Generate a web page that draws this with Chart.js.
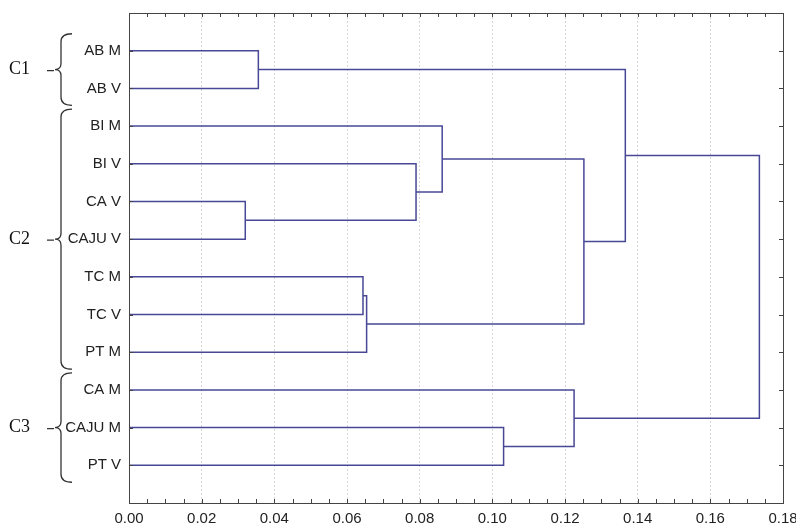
<!DOCTYPE html>
<html>
<head>
<meta charset="utf-8">
<script src="https://cdn.jsdelivr.net/npm/chart.js@4/dist/chart.umd.min.js"></script>
<style>
  html, body { margin: 0; padding: 0; background: #fff; }
  #wrap { width: 796px; height: 525px; }
</style>
</head>
<body>
<div id="wrap"><canvas id="dendro" width="796" height="525"></canvas></div>
<script>
// leaves, top to bottom
const leaves = ['AB M', 'AB V', 'BI M', 'BI V', 'CA V', 'CAJU V', 'TC M', 'TC V', 'PT M', 'CA M', 'CAJU M', 'PT V'];

// linkage: node ids 0..11 are leaves, each merge creates node 12, 13, ...
const mergeA = [4, 0, 6, 14, 3, 2, 10, 9, 17, 13, 21];
const mergeB = [5, 1, 7, 8, 12, 16, 11, 18, 15, 20, 19];
const mergeHeight = [0.032, 0.0356, 0.0644, 0.0654, 0.079, 0.0862, 0.1031, 0.1225, 0.1252, 0.1366, 0.1735];

// bracketed groups (leaf index ranges)
const groupNames = ['C1', 'C2', 'C3'];
const groupFirst = [0, 2, 9];
const groupLast = [1, 8, 11];

const xTicks = [0, 0.02, 0.04, 0.06, 0.08, 0.10, 0.12, 0.14, 0.16, 0.18];

const lineColor = 'rgb(72, 72, 150)';

// node positions: y = leaf slot (1..12), x = merge height
const nodeY = leaves.map((_, i) => i + 1);
const nodeX = leaves.map(() => 0);
mergeA.forEach((a, k) => {
    nodeY.push((nodeY[a] + nodeY[mergeB[k]]) / 2);
    nodeX.push(mergeHeight[k]);
});

const datasets = mergeA.map((a, k) => {
    const b = mergeB[k];
    const h = mergeHeight[k];
    return {
        data: [
            { x: nodeX[a], y: nodeY[a] },
            { x: h, y: nodeY[a] },
            { x: h, y: nodeY[b] },
            { x: nodeX[b], y: nodeY[b] }
        ],
        showLine: true,
        borderColor: lineColor,
        borderWidth: 1.5,
        pointRadius: 0,
        tension: 0,
        fill: false
    };
});

// frame, inward ticks and the group braces
const framePlugin = {
    id: 'frame',
    afterDraw(chart) {
        const ctx = chart.ctx;
        const a = chart.chartArea;
        const xs = chart.scales.x;
        const ys = chart.scales.y;
        ctx.save();
        ctx.strokeStyle = '#444';
        ctx.lineWidth = 1;
        ctx.strokeRect(Math.round(a.left) + 0.5, Math.round(a.top) + 0.5,
            Math.round(a.right - a.left), Math.round(a.bottom - a.top));

        ctx.beginPath();
        for (let v = 0.005; v < 0.18; v += 0.005) {
            const px = Math.round(xs.getPixelForValue(v)) + 0.5;
            ctx.moveTo(px, a.bottom);
            ctx.lineTo(px, a.bottom - 4);
            ctx.moveTo(px, a.top);
            ctx.lineTo(px, a.top + 4);
        }
        nodeY.slice(0, leaves.length).forEach(v => {
            const py = Math.round(ys.getPixelForValue(v)) + 0.5;
            ctx.moveTo(a.right, py);
            ctx.lineTo(a.right - 4, py);
            ctx.moveTo(a.left, py);
            ctx.lineTo(a.left + 4, py);
        });
        ctx.stroke();

        // braces
        ctx.strokeStyle = '#333';
        ctx.lineWidth = 1.3;
        ctx.fillStyle = '#111';
        ctx.font = '18px "Liberation Serif", "Times New Roman", serif';
        ctx.textBaseline = 'middle';
        groupNames.forEach((name, g) => {
            const top = ys.getPixelForValue(groupFirst[g] + 0.55);
            const bot = ys.getPixelForValue(groupLast[g] + 1.45);
            const mid = (top + bot) / 2;
            const x0 = 61;
            ctx.beginPath();
            ctx.moveTo(x0 + 11, top);
            ctx.quadraticCurveTo(x0, top, x0, top + 8);
            ctx.lineTo(x0, mid - 6);
            ctx.quadraticCurveTo(x0, mid, x0 - 6, mid);
            ctx.quadraticCurveTo(x0, mid, x0, mid + 6);
            ctx.lineTo(x0, bot - 8);
            ctx.quadraticCurveTo(x0, bot, x0 + 11, bot);
            ctx.moveTo(x0 - 7, mid + 1);
            ctx.lineTo(x0 - 14, mid + 1);
            ctx.stroke();
            ctx.textAlign = 'left';
            ctx.fillText(name, 9, mid);
        });
        ctx.restore();
    }
};

new Chart(document.getElementById('dendro'), {
    type: 'scatter',
    data: { datasets: datasets },
    options: {
        responsive: false,
        animation: false,
        layout: { padding: { top: 13, right: 13, left: 0, bottom: 0 } },
        plugins: {
            legend: { display: false },
            tooltip: { enabled: false }
        },
        scales: {
            x: {
                type: 'linear',
                min: 0,
                max: 0.18,
                afterBuildTicks: scale => {
                    scale.ticks = xTicks.map(v => ({ value: v }));
                },
                afterFit: scale => {
                    scale.height = 22;
                    scale.paddingLeft = 0;
                    scale.paddingRight = 0;
                },
                ticks: {
                    padding: 7,
                    color: '#222',
                    font: { family: '"Liberation Sans", Arial, sans-serif', size: 15 },
                    callback: v => Number(v).toFixed(2)
                },
                grid: {
                    drawTicks: false,
                    color: ctx => (ctx.tick && ctx.tick.value > 0.001 && ctx.tick.value < 0.179) ? '#d6d6d6' : 'rgba(0,0,0,0)',
                    lineWidth: 1
                },
                border: { display: false, dash: [2, 2] }
            },
            y: {
                type: 'linear',
                min: 0,
                max: 13,
                reverse: true,
                afterBuildTicks: scale => {
                    scale.ticks = leaves.map((_, i) => ({ value: i + 1 }));
                },
                afterFit: scale => {
                    scale.width = 129;
                    scale.paddingTop = 0;
                    scale.paddingBottom = 0;
                },
                ticks: {
                    padding: 8,
                    color: '#222',
                    font: { family: '"Liberation Sans", Arial, sans-serif', size: 15 },
                    callback: v => leaves[v - 1] || ''
                },
                grid: { display: false, drawTicks: false },
                border: { display: false }
            }
        }
    },
    plugins: [framePlugin]
});
</script>
</body>
</html>
